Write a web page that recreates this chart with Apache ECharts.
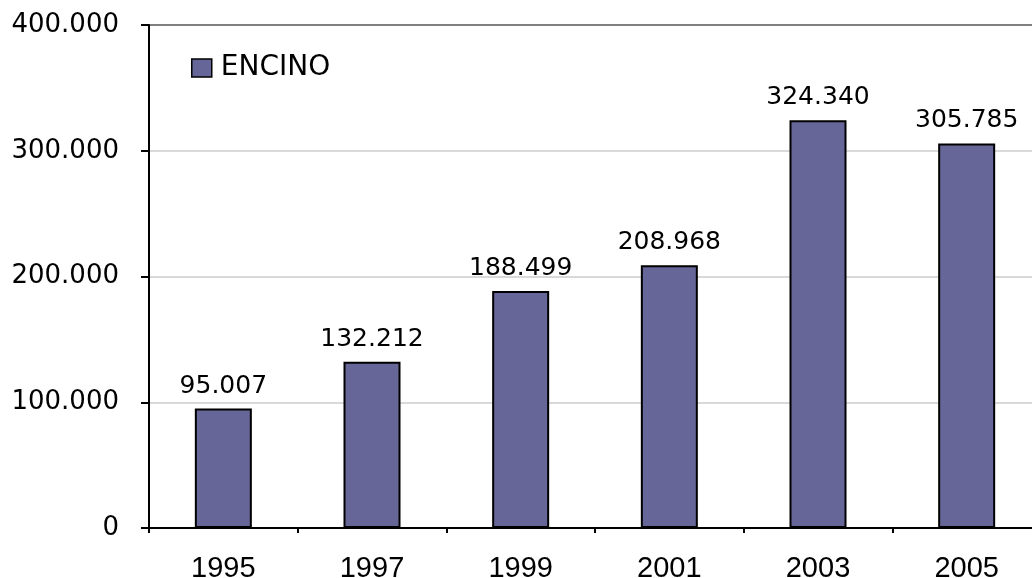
<!DOCTYPE html>
<html>
<head>
<meta charset="utf-8">
<script src="https://cdn.jsdelivr.net/npm/echarts@6/dist/echarts.min.js"></script>
<style>
  html, body { margin: 0; padding: 0; background: #fff; }
  #chart { width: 1032px; height: 578px; }
</style>
</head>
<body>
<div id="chart"></div>
<script>
// Superficie de encino por año
var years = ['1995', '1997', '1999', '2001', '2003', '2005'];
var encino = [95007, 132212, 188499, 208968, 324340, 305785];
var seriesName = 'ENCINO';

// Formato con punto como separador de miles
function miles(v) {
  return String(Math.round(v)).replace(/\B(?=(\d{3})+(?!\d))/g, '.');
}

var chart = echarts.init(document.getElementById('chart'), null, { renderer: 'canvas' });
chart.setOption({
  animation: false,
  backgroundColor: '#ffffff',
  grid: { left: 149, right: -9, top: 25, bottom: 50, containLabel: false, outerBoundsMode: 'none' },
  legend: {
    left: 191, top: 54,
    padding: 0,
    icon: 'rect',
    itemWidth: 20, itemHeight: 18, itemGap: 10,
    data: [seriesName],
    textStyle: { fontFamily: 'DejaVu Sans', fontSize: 28, color: '#000', padding: [0, 0, 0, 4] },
    itemStyle: { borderColor: '#000', borderWidth: 1.5 }
  },
  xAxis: {
    type: 'category',
    data: years,
    axisLine: { lineStyle: { color: '#000', width: 2 } },
    axisTick: { show: true, alignWithLabel: false, length: 5, lineStyle: { color: '#000', width: 2 } },
    axisLabel: { fontFamily: 'Liberation Sans', fontSize: 29, color: '#000', margin: 26 },
    splitLine: { show: false }
  },
  yAxis: {
    type: 'value',
    min: 0, max: 400000, interval: 100000,
    axisLine: { show: true, lineStyle: { color: '#000', width: 2 } },
    axisTick: { show: true, length: 8, lineStyle: { color: '#000', width: 2 } },
    axisLabel: {
      fontFamily: 'DejaVu Sans', fontSize: 26, color: '#000', margin: 30,
      formatter: function (v) { return miles(v); }
    },
    splitLine: {
      show: true,
      lineStyle: { color: ['#d9d9d9', '#d9d9d9', '#d9d9d9', '#d9d9d9', '#808080'], width: 2 }
    }
  },
  series: [{
    name: seriesName,
    type: 'bar',
    data: encino,
    barWidth: 57,
    itemStyle: { color: '#666699', borderColor: '#000', borderWidth: 2 },
    label: {
      show: true, position: 'top', distance: 10,
      fontFamily: 'DejaVu Sans', fontSize: 25, color: '#000',
      formatter: function (p) { return miles(p.value); }
    }
  }]
});
</script>
</body>
</html>
